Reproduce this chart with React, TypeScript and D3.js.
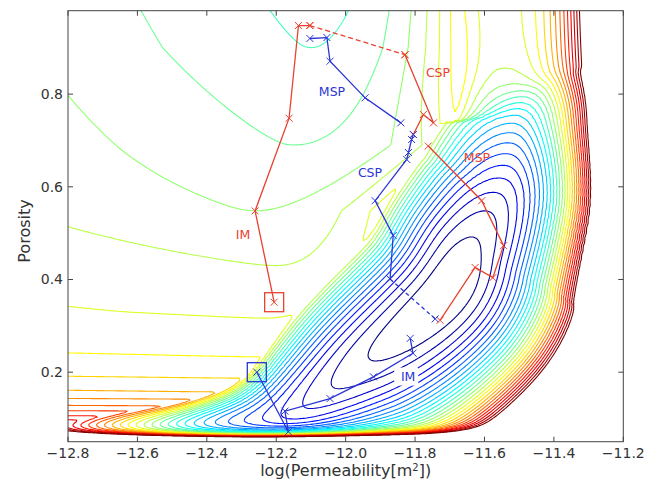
import { useMemo } from "react";
import * as d3 from "d3";

const WIDTH = 662;
const HEIGHT = 491;
const LEFT = 68;
const RIGHT = 623.3;
const TOP = 10.7;
const BOTTOM = 441.7;

const xTicks = [-12.8, -12.6, -12.4, -12.2, -12.0, -11.8, -11.6, -11.4, -11.2];
const yTicks = [0.2, 0.4, 0.6, 0.8];

// main misfit valley (floor line)
const valleyK = [-12.9, -12.45, -12.19, -11.95, -11.73, -11.64, -11.55, -11.52, -11.55, -11.58];
const valleyPhi = [0.062, 0.075, 0.1, 0.22, 0.355, 0.47, 0.6, 0.74, 0.84, 1.05];
const valleyFloor = [0.95, 0.32, 0.14, 0.04, 0.0, 0.025, 0.12, 0.32, 0.55, 0.58];
const valleyWL = [44, 44, 85, 112, 122, 122, 125, 132, 132, 132];
const valleyWR = [40, 40, 60, 118, 125, 120, 99, 92, 113, 118];
const valleyPR = [2, 2, 2, 2, 2, 2, 2, 2, 2.5, 3];

// upper-left basin
const basinPhi = [0.0, 0.06, 0.1, 0.13, 0.157, 0.2, 0.25, 0.33, 0.43, 0.548, 0.69, 0.9, 1.05];
const basinFloor = [1.2, 1.0, 0.85, 0.76, 0.7, 0.65, 0.62, 0.59, 0.56, 0.525, 0.49, 0.455, 0.44];
const basinK = [-12.3, -12.3, -12.3, -12.3, -12.3, -12.28, -12.26, -12.22, -12.2, -12.26, -12.15, -12.1, -12.08];
const basinSlopeL = [0.3, 0.3, 0.3, 0.3, 0.3, 0.3, 0.3, 0.4, 1.0, 1.6, 2.2, 2.7, 2.85];
const basinRiseR = [5, 5, 5, 5, 5, 5, 5, 5, 5, 4, 3, 6, 7.5];

const levels = d3.range(1, 29).map((i) => i * 0.035);

// inversion paths [log k, porosity]
const imRed = [[-12.206, 0.351], [-12.261, 0.548], [-12.163, 0.748], [-12.136, 0.948], [-12.103, 0.948]];
const jumpRed = [[-12.103, 0.948], [-11.829, 0.885]];
const cspRed = [[-11.829, 0.885], [-11.747, 0.738], [-11.776, 0.756], [-11.805, 0.713]];
const mspRed = [[-11.762, 0.688], [-11.608, 0.57], [-11.545, 0.473], [-11.576, 0.404], [-11.627, 0.426], [-11.728, 0.312]];
const imBlue = [[-12.256, 0.2], [-12.165, 0.0715], [-12.175, 0.116], [-12.045, 0.143], [-11.92, 0.19], [-11.806, 0.241], [-11.814, 0.273]];
const mspBlue = [[-12.103, 0.92], [-12.054, 0.922], [-12.045, 0.871], [-11.944, 0.792], [-11.841, 0.738]];
const cspBlue = [[-11.805, 0.713], [-11.81, 0.702], [-11.819, 0.674], [-11.824, 0.659], [-11.915, 0.57], [-11.863, 0.495], [-11.872, 0.401]];
const jumpBlue = [[-11.872, 0.401], [-11.742, 0.315]];

const RED = "#e8412f";
const BLUE = "#2a35d6";

function jet(t: number) {
  const c = (v: number) => Math.max(0, Math.min(1, v));
  const r = c(1.5 - Math.abs(4 * t - 3));
  const g = c(1.5 - Math.abs(4 * t - 2));
  const b = c(1.5 - Math.abs(4 * t - 1));
  return d3.rgb(r * 255, g * 255, b * 255).toString();
}

function catmull(p0: number, p1: number, p2: number, p3: number, t: number) {
  const t2 = t * t, t3 = t2 * t;
  return 0.5 * (2 * p1 + (-p0 + p2) * t + (2 * p0 - 5 * p1 + 4 * p2 - p3) * t2 + (-p0 + 3 * p1 - 3 * p2 + p3) * t3);
}

// densify node columns with a Catmull-Rom spline
function densify(cols: number[][], per: number) {
  const n = cols[0].length;
  const out: number[][] = cols.map(() => []);
  for (let i = 0; i < n - 1; i++) {
    const i0 = Math.max(0, i - 1), i3 = Math.min(n - 1, i + 2);
    for (let s = 0; s < per; s++) {
      const t = s / per;
      cols.forEach((c, ci) => out[ci].push(catmull(c[i0], c[i], c[i + 1], c[i3], t)));
    }
  }
  cols.forEach((c, ci) => out[ci].push(c[n - 1]));
  return out;
}

export default function App() {
  const x = d3.scaleLinear().domain([-12.8, -11.2]).range([LEFT, RIGHT]);
  const y = d3.scaleLinear().domain([0.05, 0.98]).range([BOTTOM, TOP]);

  const contourPaths = useMemo(() => {
    const [vx, vy, vf, vl, vr, vp] = densify(
      [valleyK.map((k) => x(k)), valleyPhi.map((p) => y(p)), valleyFloor, valleyWL, valleyWR, valleyPR],
      12
    );
    const byPhi = (arr: number[]) => d3.scaleLinear().domain(basinPhi).range(arr).clamp(true);
    const basinFloorAt = byPhi(basinFloor);
    const basinCenterAt = byPhi(basinK);
    const slopeLAt = byPhi(basinSlopeL);
    const riseRAt = byPhi(basinRiseR);

    const field = (sx: number, sy: number) => {
      let best = Infinity, seg = 0, tt = 0, cross = 0;
      for (let i = 0; i < vx.length - 1; i++) {
        const dx = vx[i + 1] - vx[i], dy = vy[i + 1] - vy[i];
        const L2 = dx * dx + dy * dy;
        let t = ((sx - vx[i]) * dx + (sy - vy[i]) * dy) / L2;
        t = Math.max(0, Math.min(1, t));
        const px = vx[i] + t * dx, py = vy[i] + t * dy;
        const d2 = (sx - px) ** 2 + (sy - py) ** 2;
        if (d2 < best) {
          best = d2; seg = i; tt = t;
          cross = dx * (sy - vy[i]) - dy * (sx - vx[i]);
        }
      }
      const lerp = (arr: number[]) => arr[seg] + tt * (arr[seg + 1] - arr[seg]);
      const d = Math.sqrt(best);
      const V = cross < 0 ? lerp(vf) + (d / lerp(vl)) ** 2 : lerp(vf) + Math.pow(d / lerp(vr), lerp(vp));

      const phi = y.invert(sy);
      const off = sx - x(basinCenterAt(phi));
      const B = basinFloorAt(phi) + (off < 0
        ? slopeLAt(phi) * 1e-4 * (Math.sqrt(off * off + 400) - 20)
        : riseRAt(phi) * 1e-6 * off * off * (1 + (off / 200) ** 2));

      const k = 0.015;
      const m = Math.min(V, B);
      const sm = m - k * Math.log(Math.exp(-(V - m) / k) + Math.exp(-(B - m) / k));
      const wall = 2.5 * Math.exp(-(BOTTOM - sy) / 4);
      return sm + wall;
    };

    const step = 1.5, pad = 6;
    const x0 = LEFT - pad, y0 = TOP - pad;
    const nx = Math.ceil((RIGHT - LEFT + 2 * pad) / step) + 1;
    const ny = Math.ceil((BOTTOM - TOP + 2 * pad) / step) + 1;
    const values = new Array(nx * ny);
    for (let j = 0; j < ny; j++) {
      for (let i = 0; i < nx; i++) {
        values[j * nx + i] = field(x0 + i * step, y0 + j * step);
      }
    }
    const gen = d3.contours().size([nx, ny]).thresholds(levels);
    const path = d3.geoPath();
    return gen(values).map((c, idx) => {
      const coords = c.coordinates.map((poly) =>
        poly.map((ring) => ring.map(([gx, gy]) => [x0 + (gx - 0.5) * step, y0 + (gy - 0.5) * step]))
      );
      return {
        d: path({ type: "MultiPolygon", coordinates: coords } as any) || "",
        color: jet(idx / (levels.length - 1)),
      };
    });
  }, []);

  const line = d3.line<number[]>().x((d) => x(d[0])).y((d) => y(d[1]));
  const cross = (pts: number[][], color: string, key: string) =>
    pts.map((p, i) => (
      <path
        key={key + i}
        d={`M${x(p[0]) - 3.5},${y(p[1]) - 3.5}L${x(p[0]) + 3.5},${y(p[1]) + 3.5}M${x(p[0]) - 3.5},${y(p[1]) + 3.5}L${x(p[0]) + 3.5},${y(p[1]) - 3.5}`}
        stroke={color}
        strokeWidth={1}
        fill="none"
      />
    ));

  const font = "DejaVu Sans, sans-serif";

  return (
    <svg width={WIDTH} height={HEIGHT} style={{ position: "absolute", left: 0, top: 0, background: "#fff" }}>
      <defs>
        <clipPath id="plotClip">
          <rect x={LEFT} y={TOP} width={RIGHT - LEFT} height={BOTTOM - TOP} />
        </clipPath>
      </defs>
      <g clipPath="url(#plotClip)">
        {contourPaths.map((c, i) => (
          <path key={i} d={c.d} fill="none" stroke={c.color} strokeWidth={1.1} />
        ))}
      </g>

      {/* blue IM label with white backing */}
      <rect x={x(-11.86)} y={y(0.21)} width={24} height={18} fill="#fff" />
      <text x={x(-11.82)} y={y(0.19) + 1} fill={BLUE} fontSize={12.5} fontFamily={font} textAnchor="middle" dominantBaseline="middle">IM</text>

      {/* inversion paths */}
      <g fill="none" strokeWidth={1.3}>
        <path d={line(imRed) || ""} stroke={RED} />
        <path d={line(jumpRed) || ""} stroke={RED} strokeDasharray="5,3" />
        <path d={line(cspRed) || ""} stroke={RED} />
        <path d={line(mspRed) || ""} stroke={RED} />
        <path d={line(imBlue) || ""} stroke={BLUE} />
        <path d={line(mspBlue) || ""} stroke={BLUE} />
        <path d={line(cspBlue) || ""} stroke={BLUE} />
        <path d={line(jumpBlue) || ""} stroke={BLUE} strokeDasharray="4,3" />
      </g>
      {cross(imRed, RED, "ir")}
      {cross(jumpRed, RED, "jr")}
      {cross(cspRed, RED, "cr")}
      {cross(mspRed, RED, "mr")}
      {cross(imBlue, BLUE, "ib")}
      {cross(mspBlue, BLUE, "mb")}
      {cross(cspBlue, BLUE, "cb")}
      {cross(jumpBlue, BLUE, "jb")}

      {/* start boxes */}
      <rect x={x(imRed[0][0]) - 9.5} y={y(imRed[0][1]) - 9.5} width={19} height={19} fill="none" stroke={RED} strokeWidth={1.3} />
      <rect x={x(imBlue[0][0]) - 9.5} y={y(imBlue[0][1]) - 9.5} width={19} height={19} fill="none" stroke={BLUE} strokeWidth={1.3} />

      {/* method labels */}
      <g fontFamily={font} fontSize={12.5} textAnchor="middle" dominantBaseline="middle">
        <text x={243} y={235} fill={RED}>IM</text>
        <text x={438} y={73} fill={RED}>CSP</text>
        <text x={477} y={158} fill={RED}>MSP</text>
        <text x={332} y={92} fill={BLUE}>MSP</text>
        <text x={370} y={173} fill={BLUE}>CSP</text>
      </g>

      {/* frame and ticks */}
      <rect x={LEFT} y={TOP} width={RIGHT - LEFT} height={BOTTOM - TOP} fill="none" stroke="#444" strokeWidth={1} />
      <g stroke="#444" strokeWidth={1}>
        {xTicks.map((t) => (
          <g key={"xt" + t}>
            <line x1={x(t)} x2={x(t)} y1={BOTTOM} y2={BOTTOM - 5} />
            <line x1={x(t)} x2={x(t)} y1={TOP} y2={TOP + 5} />
          </g>
        ))}
        {yTicks.map((t) => (
          <g key={"yt" + t}>
            <line x1={LEFT} x2={LEFT + 5} y1={y(t)} y2={y(t)} />
            <line x1={RIGHT} x2={RIGHT - 5} y1={y(t)} y2={y(t)} />
          </g>
        ))}
      </g>
      <g fontFamily={font} fontSize={14} fill="#333">
        {xTicks.map((t) => (
          <text key={"xl" + t} x={x(t)} y={458} textAnchor="middle">
            {d3.format(".1f")(t).replace("-", "\u2212")}
          </text>
        ))}
        {yTicks.map((t) => (
          <text key={"yl" + t} x={63} y={y(t) + 5} textAnchor="end">
            {d3.format(".1f")(t)}
          </text>
        ))}
      </g>
      <text x={(LEFT + RIGHT) / 2} y={476} textAnchor="middle" fontFamily={font} fontSize={16} fill="#333">
        log(Permeability[m<tspan baselineShift="super" fontSize={10}>2</tspan>])
      </text>
      <text transform={`translate(30, 231) rotate(-90)`} textAnchor="middle" fontFamily={font} fontSize={16} fill="#333">
        Porosity
      </text>
    </svg>
  );
}
